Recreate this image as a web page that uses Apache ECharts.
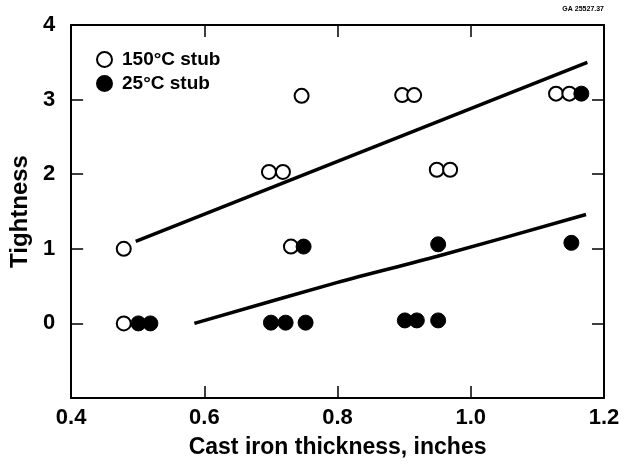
<!DOCTYPE html>
<html><head><meta charset="utf-8">
<script src="https://cdn.jsdelivr.net/npm/echarts@6/dist/echarts.min.js"></script>
<style>html,body{margin:0;padding:0;background:#fff}#c{width:628px;height:464px}</style>
</head><body><div id="c"></div>
<script>
const xTicks = [0.4, 0.6, 0.8, 1.0, 1.2];
const yTicks = [0, 1, 2, 3, 4];
const hot150 = [[0.479,1.0],[0.479,0.0],[0.697,2.03],[0.718,2.03],[0.746,3.05],[0.73,1.03],
  [0.897,3.06],[0.915,3.06],[0.949,2.06],[0.969,2.06],[1.128,3.08],[1.148,3.08]];
const cold25 = [[0.501,0.0],[0.519,0.0],[0.749,1.03],[0.70,0.01],[0.722,0.01],[0.752,0.01],
  [0.951,1.06],[1.151,1.08],[1.166,3.08],[0.901,0.04],[0.919,0.04],[0.951,0.04]];
const fit150 = [[0.497,1.10],[1.175,3.50]];
const fit25 = [[0.585,0.0],[0.80,0.55],[0.95,0.90],[1.173,1.46]];

const chart = echarts.init(document.getElementById('c'));
const F = '"Liberation Sans", Arial, sans-serif';
const axisLine = {show:true, onZero:false, lineStyle:{color:'#000', width:2}};
const tick = {show:true, inside:true, length:12, lineStyle:{color:'#000', width:1.5}};
chart.setOption({
  animation:false,
  backgroundColor:'#fff',
  grid:{left:69, right:24, top:25, bottom:61},
  legend:{
    orient:'vertical', left:91, top:45, itemGap:5, itemWidth:15, itemHeight:15,
    data:['150°C stub','25°C stub'],
    textStyle:{fontFamily:F, fontWeight:'bold', fontSize:19, color:'#000', padding:[0,0,0,5]}
  },
  graphic:[{type:'text', right:24, top:6, style:{text:'GA 25527.37', font:'bold 7px '+F, fill:'#000'}}],
  xAxis:[
    {type:'value', min:0.4, max:1.2, interval:0.2, position:'bottom',
     name:'Cast iron thickness, inches', nameLocation:'middle', nameGap:38,
     nameTextStyle:{fontFamily:F, fontWeight:'bold', fontSize:23, color:'#000'},
     axisLine:axisLine, splitLine:{show:false}, axisTick:tick,
     axisLabel:{fontFamily:F, fontWeight:'bold', fontSize:22, color:'#000', margin:9,
       formatter:v=>xTicks.some(t=>Math.abs(t-v)<1e-6)?v.toFixed(1):''}},
    {type:'value', min:0.4, max:1.2, interval:0.2, position:'top',
     axisLine:axisLine, splitLine:{show:false}, axisTick:tick,
     axisLabel:{show:false}}
  ],
  yAxis:[
    {type:'value', min:-1, max:4, interval:1, position:'left',
     name:'Tightness', nameLocation:'middle', nameGap:34,
     nameTextStyle:{fontFamily:F, fontWeight:'bold', fontSize:24, color:'#000'},
     axisLine:axisLine, splitLine:{show:false}, axisTick:tick,
     axisLabel:{fontFamily:F, fontWeight:'bold', fontSize:22, color:'#000', margin:16,
       formatter:v=>yTicks.includes(v)?String(v):''}},
    {type:'value', min:-1, max:4, interval:1, position:'right',
     axisLine:axisLine, splitLine:{show:false}, axisTick:tick,
     axisLabel:{show:false}}
  ],
  series:[
    {name:'fit150', type:'line', data:fit150, symbol:'none', silent:true,
     lineStyle:{color:'#000', width:3.5}, z:1},
    {name:'fit25', type:'line', data:fit25, symbol:'none', silent:true, smooth:0.3,
     lineStyle:{color:'#000', width:3.5}, z:1},
    {name:'150°C stub', type:'scatter', data:hot150, symbol:'circle', symbolSize:14,
     itemStyle:{color:'#fff', borderColor:'#000', borderWidth:2, opacity:1}, z:3},
    {name:'25°C stub', type:'scatter', data:cold25, symbol:'circle', symbolSize:15,
     itemStyle:{color:'#000', borderColor:'#000', borderWidth:1, opacity:1}, z:4}
  ]
});
</script></body></html>
